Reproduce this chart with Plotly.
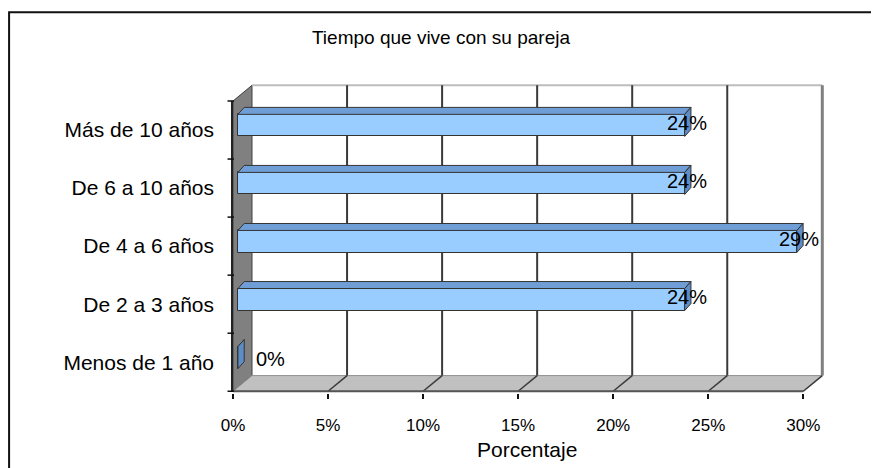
import plotly.graph_objects as go

# ---------------- data ----------------
categories = ["Menos de 1 año", "De 2 a 3 años", "De 4 a 6 años", "De 6 a 10 años", "Más de 10 años"]
percent = [0.0, 23.5, 29.4, 23.5, 23.5]
x_ticks = [0, 5, 10, 15, 20, 25, 30]
x_tick_labels = ["0%", "5%", "10%", "15%", "20%", "25%", "30%"]
title_text = "Tiempo que vive con su pareja"
x_title = "Porcentaje"

# ---------------- geometry / style ----------------
PAGE_OFF = 8                 # default body margin of the html page
W, H = 879 - PAGE_OFF, 468 - PAGE_OFF
FONT = "Liberation Sans, Arial, sans-serif"
X_RANGE = [0, 31.3]
Y_RANGE = [-0.03, 5.31]
PX_X = 19.0      # pixels per percent
PX_Y = 58.06     # pixels per category
LEFT = 233.0 - PAGE_OFF
ZERO_Y = 391.0 - PAGE_OFF   # pixel row of y = 0

plot_w = (X_RANGE[1] - X_RANGE[0]) * PX_X
plot_h = (Y_RANGE[1] - Y_RANGE[0]) * PX_Y
bottom_px = ZERO_Y - Y_RANGE[0] * PX_Y
m_l = LEFT
m_r = W - LEFT - plot_w
m_b = H - bottom_px
m_t = bottom_px - plot_h


def paper_x(px):
    """screen pixel -> paper x"""
    return (px - PAGE_OFF - m_l) / plot_w


def paper_y(py):
    """screen pixel -> paper y"""
    return (bottom_px - (py - PAGE_OFF)) / plot_h


DX, DY = 1.0, 0.27          # 3-D depth offset of the back wall
N = len(categories)
X_MAX = x_ticks[-1]

# bar 3-D geometry (relative to category slot)
BX0 = 0.26                  # front face start
BDX, BDY = 0.33, 0.12       # bar depth
BY0, BY1 = 0.39, 0.77       # front face vertical extent

FRONT = "#99CCFF"
TOP = "#6F9ED6"
SIDE = "#5E8CC4"
EDGE = "#333333"

shapes = []
# side wall
shapes.append(dict(type="path", xref="x", yref="y", layer="below",
                   path=f"M 0,0 L 0,{N} L {DX},{N + DY} L {DX},{DY} Z",
                   fillcolor="#808080", line=dict(color="#404040", width=1)))
# floor
shapes.append(dict(type="path", xref="x", yref="y", layer="below",
                   path=f"M 0,0 L {X_MAX},0 L {X_MAX + DX},{DY} L {DX},{DY} Z",
                   fillcolor="#C0C0C0", line=dict(color="#909090", width=1)))
# back wall top edge
shapes.append(dict(type="line", xref="x", yref="y", layer="below",
                   x0=DX, x1=X_MAX + DX, y0=N + DY, y1=N + DY,
                   line=dict(color="#BDBDBD", width=2)))
# back-wall gridlines and floor diagonals
for t in x_ticks[1:]:
    col = "#808080" if t == X_MAX else "#3A3A3A"
    wid = 3 if t == X_MAX else 2
    shapes.append(dict(type="line", xref="x", yref="y", layer="below",
                       x0=t + DX, x1=t + DX, y0=DY, y1=N + DY,
                       line=dict(color=col, width=wid)))
    shapes.append(dict(type="line", xref="x", yref="y", layer="below",
                       x0=t, x1=t + DX, y0=0, y1=DY,
                       line=dict(color="#3A3A3A", width=1.5)))
# front floor edge
shapes.append(dict(type="line", xref="x", yref="y", layer="below",
                   x0=0, x1=X_MAX, y0=0, y1=0,
                   line=dict(color="#555555", width=2)))
# vertical category axis line and its ticks
shapes.append(dict(type="line", xref="paper", yref="y",
                   x0=paper_x(232), x1=paper_x(232), y0=0, y1=N,
                   line=dict(color="#222222", width=2)))
for k in range(N + 1):
    shapes.append(dict(type="line", xref="paper", yref="y",
                       x0=paper_x(227.5), x1=paper_x(234), y0=k, y1=k,
                       line=dict(color="#111111", width=1.5)))
# outer chart border
shapes.append(dict(type="rect", xref="paper", yref="paper",
                   x0=paper_x(9.2), x1=paper_x(895), y0=paper_y(490), y1=paper_y(12),
                   line=dict(color="#111111", width=2), fillcolor="rgba(0,0,0,0)"))

fig = go.Figure()

# front faces of the bars
fig.add_trace(go.Bar(
    orientation="h",
    y=[i + (BY0 + BY1) / 2 for i in range(N)],
    x=percent,
    base=BX0,
    width=BY1 - BY0,
    marker=dict(color=FRONT, line=dict(color=EDGE, width=1)),
    hoverinfo="skip",
    showlegend=False,
))

# top and side faces
for i, v in enumerate(percent):
    x_end = BX0 + v
    fig.add_trace(go.Scatter(
        x=[BX0, x_end, x_end + BDX, BX0 + BDX, BX0],
        y=[i + BY1, i + BY1, i + BY1 + BDY, i + BY1 + BDY, i + BY1],
        mode="lines", fill="toself", fillcolor=TOP,
        line=dict(color=EDGE, width=1), hoverinfo="skip", showlegend=False))
    fig.add_trace(go.Scatter(
        x=[x_end, x_end + BDX, x_end + BDX, x_end, x_end],
        y=[i + BY0, i + BY0 + BDY, i + BY1 + BDY, i + BY1, i + BY0],
        mode="lines", fill="toself", fillcolor=SIDE,
        line=dict(color=EDGE, width=1), hoverinfo="skip", showlegend=False))

annotations = []
for i, v in enumerate(percent):
    if v > 0:
        annotations.append(dict(x=v + 0.4, y=i + 0.62, xref="x", yref="y",
                                text=f"{round(v)}%", showarrow=False,
                                xanchor="center", yanchor="middle",
                                font=dict(family=FONT, size=20, color="#000000")))
    else:
        annotations.append(dict(x=v + 1.1, y=i + 0.55, xref="x", yref="y",
                                text=f"{round(v)}%", showarrow=False,
                                xanchor="left", yanchor="middle",
                                font=dict(family=FONT, size=20, color="#000000")))
annotations.append(dict(x=paper_x(527), y=paper_y(449), xref="paper", yref="paper",
                        text=x_title, showarrow=False, xanchor="center", yanchor="middle",
                        font=dict(family=FONT, size=21, color="#000000")))

fig.update_layout(
    width=W, height=H,
    margin=dict(l=m_l, r=m_r, t=m_t, b=m_b, autoexpand=False),
    paper_bgcolor="white", plot_bgcolor="white",
    title=dict(text=title_text, x=(441 - PAGE_OFF) / W, xref="container", xanchor="center",
               y=1 - (37 - PAGE_OFF) / H, yref="container", yanchor="middle",
               font=dict(family=FONT, size=19, color="#000000")),
    xaxis=dict(range=X_RANGE, tickvals=x_ticks, ticktext=x_tick_labels,
               showgrid=False, zeroline=False, showline=False,
               ticks="outside", ticklen=5, tickwidth=1.5, tickcolor="#111111",
               ticklabelstandoff=12,
               tickfont=dict(family=FONT, size=17, color="#000000")),
    yaxis=dict(range=Y_RANGE, tickvals=[i + 0.5 for i in range(N)], ticktext=categories,
               showgrid=False, zeroline=False, showline=False, ticks="",
               ticklabelstandoff=18,
               tickfont=dict(family=FONT, size=21, color="#000000")),
    shapes=shapes,
    annotations=annotations,
    bargap=0,
)

fig.write_html("out.html")
